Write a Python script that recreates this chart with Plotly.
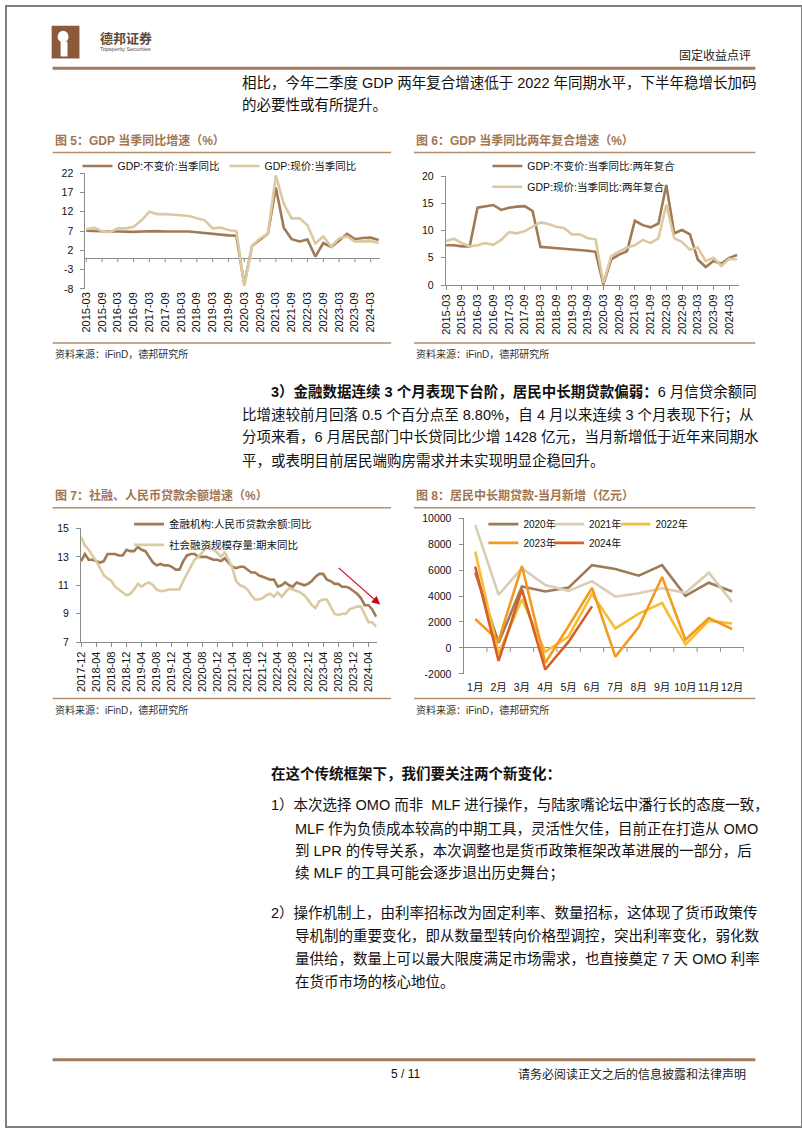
import plotly.graph_objects as go

W, H = 802, 1133


def fx(x):
    return x / W


def fy(y):
    return 1 - y / H


FONT = "Liberation Sans, Noto Sans CJK SC, sans-serif"
TXT = "Liberation Sans Narrow, Liberation Sans, Noto Sans CJK SC, sans-serif"
CJK = "Noto Sans CJK SC, sans-serif"
BROWN = "#A27650"
RULE = "#B38F6C"
DARK = "#A07A55"
LIGHT = "#DCC9A2"
AXIS = "#8C8C8C"

# ---------------- data ----------------
quarters = [f"{y}-{m:02d}" for y in range(2015, 2025) for m in (3, 6, 9, 12)][:38]
quarter_ticks = quarters[::2]

gdp_real = [7.1, 7.0, 7.0, 6.9, 6.9, 6.8, 6.8, 6.9, 7.0, 7.0, 6.9, 6.9,
            6.9, 6.9, 6.7, 6.5, 6.3, 6.0, 5.9, 5.8, -6.8, 3.2, 4.9, 6.4,
            18.3, 7.9, 4.9, 4.3, 4.8, 0.4, 3.9, 2.9, 4.5, 6.3, 4.9, 5.2,
            5.3, 4.7]
gdp_nominal = [7.5, 7.9, 7.0, 6.7, 7.7, 7.7, 8.1, 9.8, 12.0, 11.4, 11.4, 11.3,
               11.1, 10.9, 10.3, 9.8, 7.7, 7.9, 7.3, 7.0, -7.2, 3.2, 5.1, 6.4,
               21.4, 14.1, 10.3, 10.3, 8.5, 3.8, 5.6, 3.0, 5.1, 5.6, 4.3, 4.4,
               4.4, 3.9]

gdp_real_2y = [7.3, 7.3, 7.1, 7.1, 14.2, 14.5, 14.7, 13.8, 14.2, 14.4, 14.5, 13.6,
               7.0, 6.9, 6.8, 6.7, 6.6, 6.4, 6.3, 6.1, 0.1, 4.7, 5.6, 6.2,
               11.8, 11.0, 10.6, 11.3, 18.4, 9.5, 10.1, 9.3, 4.7, 3.3, 4.4, 3.9,
               5.0, 5.5]
gdp_nominal_2y = [8.1, 8.5, 7.7, 7.1, 7.3, 7.7, 7.4, 8.3, 9.7, 9.5, 9.9, 10.7,
                  11.5, 11.2, 10.7, 10.5, 9.3, 9.3, 8.6, 8.4, 0.4, 5.3, 6.2, 6.9,
                  7.3, 8.3, 7.7, 8.6, 14.8, 8.6, 7.9, 6.5, 6.9, 4.4, 5.0, 3.5,
                  4.8, 4.7]

all_months = [f"{y}-{m:02d}" for y in range(2017, 2025) for m in range(1, 13)]
months = all_months[all_months.index("2017-12"):all_months.index("2024-06") + 1]
month_ticks = months[::4]

loan_yoy = [12.7,
            13.2, 12.8, 12.8, 12.7, 12.6, 12.7, 13.2, 13.2, 13.2, 13.1, 13.1, 13.5,
            13.4, 13.4, 13.7, 13.5, 13.4, 13.0, 12.6, 12.4, 12.5, 12.4, 12.4, 12.3,
            12.1, 12.1, 12.7, 13.1, 13.2, 13.2, 13.0, 13.0, 13.0, 12.9, 12.8, 12.8,
            12.7, 12.9, 12.6, 12.3, 12.2, 12.3, 12.3, 12.1, 11.9, 11.9, 11.7, 11.6,
            11.5, 11.4, 11.4, 10.9, 11.0, 11.2, 11.0, 10.9, 11.2, 11.1, 11.0, 11.1,
            11.3, 11.6, 11.8, 11.8, 11.4, 11.3, 11.1, 11.1, 10.9, 10.9, 10.8, 10.6,
            10.4, 10.1, 9.6, 9.6, 9.3, 8.8]
tsf_yoy = [14.4,
           13.8, 13.5, 13.1, 12.7, 12.2, 11.7, 11.5, 11.3, 10.9, 10.7, 10.5, 10.3,
           10.4, 10.7, 11.1, 10.9, 11.1, 11.2, 11.0, 10.7, 10.6, 10.6, 10.7, 10.7,
           10.7, 10.7, 11.3, 11.8, 12.3, 12.8, 13.0, 13.3, 13.6, 13.7, 13.5, 13.3,
           13.0, 13.3, 12.8, 12.2, 11.3, 11.0, 10.9, 10.7, 10.3, 10.0, 10.0, 10.1,
           10.3, 10.4, 10.2, 10.5, 10.2, 10.5, 10.8, 10.7, 10.6, 10.5, 10.3, 10.0,
           9.6, 9.4, 9.9, 10.0, 10.0, 9.5, 9.0, 8.9, 9.0, 9.0, 9.3, 9.4,
           9.5, 9.5, 9.0, 8.4, 8.4, 8.1]

month_labels = ["1月", "2月", "3月", "4月", "5月", "6月",
                "7月", "8月", "9月", "10月", "11月", "12月"]
mlt_2020 = [5800, 400, 4730, 4350, 4650, 6380, 6080, 5570, 6380, 4020, 5030, 4350]
mlt_2021 = [9480, 4100, 6150, 4850, 4400, 5150, 3950, 4220, 4600, 4250, 5800, 3530]
mlt_2022 = [7424, -459, 3750, -300, 900, 4161, 1500, 2650, 3460, 250, 2100, 1880]
mlt_2023 = [2231, 555, 6314, -1156, 1684, 4630, -672, 1600, 5463, 635, 2300, 1460]
mlt_2024 = [6271, -1002, 4521, -1666, 483, 3202]

year_colors = {"2020年": "#9E7B58", "2021年": "#D9CDB4", "2022年": "#F6BE34",
               "2023年": "#F39A1F", "2024年": "#D55F27"}

# ---------------- traces ----------------
fig = go.Figure()
fig.add_trace(go.Scatter(x=quarters, y=gdp_real, name="GDP:不变价:当季同比", mode="lines",
                         line=dict(color=DARK, width=2.6), xaxis="x", yaxis="y", legend="legend"))
fig.add_trace(go.Scatter(x=quarters, y=gdp_nominal, name="GDP:现价:当季同比", mode="lines",
                         line=dict(color=LIGHT, width=2.6), xaxis="x", yaxis="y", legend="legend"))

fig.add_trace(go.Scatter(x=quarters, y=gdp_real_2y, name="GDP:不变价:当季同比:两年复合", mode="lines",
                         line=dict(color=DARK, width=2.6), xaxis="x2", yaxis="y2", legend="legend2"))
fig.add_trace(go.Scatter(x=quarters, y=gdp_nominal_2y, name="GDP:现价:当季同比:两年复合", mode="lines",
                         line=dict(color=LIGHT, width=2.6), xaxis="x2", yaxis="y2", legend="legend3"))

fig.add_trace(go.Scatter(x=months, y=loan_yoy, name="金融机构:人民币贷款余额:同比", mode="lines",
                         line=dict(color=DARK, width=2.6), xaxis="x3", yaxis="y3", legend="legend4"))
fig.add_trace(go.Scatter(x=months, y=tsf_yoy, name="社会融资规模存量:期末同比", mode="lines",
                         line=dict(color=LIGHT, width=2.6), xaxis="x3", yaxis="y3", legend="legend5"))

series8 = [("2020年", mlt_2020, "legend6"), ("2021年", mlt_2021, "legend7"),
           ("2022年", mlt_2022, "legend8"), ("2023年", mlt_2023, "legend9"),
           ("2024年", mlt_2024, "legend10")]
for name, vals, lg in series8:
    fig.add_trace(go.Scatter(x=month_labels[:len(vals)], y=vals, name=name, mode="lines",
                             line=dict(color=year_colors[name], width=2.6),
                             xaxis="x4", yaxis="y4", legend=lg))

# ---------------- axes ----------------
tickfont = dict(family=FONT, size=10.5, color="#111")


def yax(top, bottom, rng, vals, anchor, zeroline=False):
    return dict(domain=[fy(bottom), fy(top)], range=rng, tickvals=vals,
                ticktext=[str(v) for v in vals], anchor=anchor,
                showline=True, linecolor=AXIS, linewidth=1, ticks="outside", ticklen=4,
                tickcolor=AXIS, showgrid=False, zeroline=zeroline, zerolinecolor=AXIS,
                zerolinewidth=1, tickfont=tickfont, ticklabelstandoff=5, fixedrange=True)


def xax(left, right, rng, vals, anchor, line=True, angle=-90):
    return dict(domain=[fx(left), fx(right)], range=rng, type="category", tickvals=vals,
                anchor=anchor, tickangle=angle, showline=line, linecolor=AXIS, linewidth=1,
                ticks="outside" if line else "", ticklen=4, tickcolor=AXIS, showgrid=False,
                zeroline=False, tickfont=dict(family=FONT, size=11, color="#111"),
                fixedrange=True)


layout = dict(
    width=W, height=H, margin=dict(l=0, r=0, t=0, b=0),
    paper_bgcolor="white", plot_bgcolor="rgba(0,0,0,0)",
    font=dict(family=FONT, color="#111"),
    xaxis=xax(80, 377, [-0.1, 37.2], quarter_ticks, "y", line=False),
    yaxis=yax(169, 286, [-8, 22], [-8, -3, 2, 7, 12, 17, 22], "x", zeroline=True),
    xaxis2=xax(443, 739, [-0.05, 37.3], quarter_ticks, "y2"),
    yaxis2=yax(172, 282, [0, 20], [0, 5, 10, 15, 20], "x2"),
    xaxis3=xax(75.5, 374, [-0.05, 78.3], month_ticks, "y3"),
    yaxis3=yax(528, 643, [7, 15], [7, 9, 11, 13, 15], "x3"),
    xaxis4=dict(xax(461, 743.4, [-0.5, 11.5], month_labels, "y4", line=False, angle=0),
                ticklabelstandoff=6, tickfont=dict(family=FONT, size=10.5, color="#111")),
    yaxis4=yax(517.7, 675, [-2000, 10000], [-2000, 0, 2000, 4000, 6000, 8000, 10000], "x4",
               zeroline=True),
    showlegend=True,
)

leg_common = dict(orientation="h", xanchor="left", yanchor="top", bgcolor="rgba(0,0,0,0)",
                  borderwidth=0, itemclick=False, itemdoubleclick=False,
                  font=dict(family=FONT, size=10.5, color="#111"))
layout["legend"] = dict(leg_common, x=fx(72), y=fy(147))
layout["legend2"] = dict(leg_common, x=fx(485), y=fy(147))
layout["legend3"] = dict(leg_common, x=fx(485), y=fy(168))
layout["legend4"] = dict(leg_common, x=fx(124), y=fy(509))
layout["legend5"] = dict(leg_common, x=fx(124), y=fy(530))
leg8_font = dict(family=FONT, size=10, color="#111")
layout["legend6"] = dict(leg_common, x=fx(481), y=fy(509), font=leg8_font)
layout["legend7"] = dict(leg_common, x=fx(547), y=fy(509), font=leg8_font)
layout["legend8"] = dict(leg_common, x=fx(614), y=fy(509), font=leg8_font)
layout["legend9"] = dict(leg_common, x=fx(481), y=fy(528), font=leg8_font)
layout["legend10"] = dict(leg_common, x=fx(547), y=fy(528), font=leg8_font)

# ---------------- decorations ----------------
shapes = []


def hline(x0, x1, y, width, color):
    shapes.append(dict(type="line", xref="paper", yref="paper", x0=fx(x0), x1=fx(x1),
                       y0=fy(y), y1=fy(y), line=dict(color=color, width=width)))


# page border
shapes.append(dict(type="rect", xref="paper", yref="paper", x0=0, x1=1, y0=0, y1=1,
                   line=dict(color="#7f7f7f", width=2)))
# logo
shapes.append(dict(type="rect", xref="paper", yref="paper", x0=fx(46), x1=fx(74),
                   y0=fy(53), y1=fy(20), fillcolor="#8B5A3A", line=dict(width=0)))
shapes.append(dict(type="circle", xref="paper", yref="paper", x0=fx(52), x1=fx(63),
                   y0=fy(37), y1=fy(25), fillcolor="white", line=dict(width=0)))
shapes.append(dict(type="rect", xref="paper", yref="paper", x0=fx(55), x1=fx(62),
                   y0=fy(51), y1=fy(36), fillcolor="white", line=dict(width=0)))

hline(47, 755, 63, 3, "#A07A5C")
hline(47, 755, 1065, 3, "#A07A5C")
for y in (148, 340.5, 507, 700):
    hline(47, 388, y, 1.5, RULE)
    hline(411, 755, y, 1.5, RULE)

# tick marks on zero lines (axis decoration)
for q in quarter_ticks:
    shapes.append(dict(type="line", xref="x", yref="y", x0=q, x1=q, ysizemode="pixel",
                       yanchor=0, y0=0, y1=-4, line=dict(color=AXIS, width=1)))
for k in range(12):
    shapes.append(dict(type="line", xref="x4", yref="y4", x0=k + 0.5, x1=k + 0.5,
                       ysizemode="pixel", yanchor=0, y0=0, y1=-4,
                       line=dict(color=AXIS, width=1)))
layout["shapes"] = shapes

ann = []


def text(x, y, s, size=14.5, color="#111", anchor="left", family=TXT):
    ann.append(dict(x=fx(x), y=fy(y), xref="paper", yref="paper", text=s, showarrow=False,
                    xanchor=anchor, yanchor="middle", font=dict(family=family, size=size,
                                                               color=color)))


text(93, 32, "<b>德邦证券</b>", size=13, color="#5B4A3C", family=CJK)
text(93, 43, "Topsperity Securities", size=5.5, color="#5B4A3C", family=FONT)
text(753, 49, "固定收益点评", size=12, color="#222", anchor="right", family=CJK)

text(236, 77, "相比，今年二季度 GDP 两年复合增速低于 2022 年同期水平，下半年稳增长加码")
text(236, 100, "的必要性或有所提升。")

text(47, 136, "<b>图 5：GDP 当季同比增速（%）</b>", size=12, color=BROWN, family=FONT)
text(411, 136, "<b>图 6：GDP 当季同比两年复合增速（%）</b>", size=12, color=BROWN, family=FONT)
text(47, 352, "资料来源：iFinD，德邦研究所", size=10, color="#333", family=FONT)
text(411, 352, "资料来源：iFinD，德邦研究所", size=10, color="#333", family=FONT)

text(265, 390, "<b>3）金融数据连续 3 个月表现下台阶，居民中长期贷款偏弱：</b>6 月信贷余额同")
text(236, 413, "比增速较前月回落 0.5 个百分点至 8.80%，自 4 月以来连续 3 个月表现下行；从")
text(236, 436, "分项来看，6 月居民部门中长贷同比少增 1428 亿元，当月新增低于近年来同期水")
text(236, 459, "平，或表明目前居民端购房需求并未实现明显企稳回升。")

text(47, 495, "<b>图 7：社融、人民币贷款余额增速（%）</b>", size=12, color=BROWN, family=FONT)
text(411, 495, "<b>图 8：居民中长期贷款-当月新增（亿元）</b>", size=12, color=BROWN, family=FONT)
text(47, 712, "资料来源：iFinD，德邦研究所", size=10, color="#333", family=FONT)
text(411, 712, "资料来源：iFinD，德邦研究所", size=10, color="#333", family=FONT)

text(265, 776, "<b>在这个传统框架下，我们要关注两个新变化：</b>")
text(265, 808, "1）本次选择 OMO 而非  MLF 进行操作，与陆家嘴论坛中潘行长的态度一致，")
text(289, 831, "MLF 作为负债成本较高的中期工具，灵活性欠佳，目前正在打造从 OMO")
text(289, 854, "到 LPR 的传导关系，本次调整也是货币政策框架改革进展的一部分，后")
text(289, 877, "续 MLF 的工具可能会逐步退出历史舞台；")
text(265, 917, "2）操作机制上，由利率招标改为固定利率、数量招标，这体现了货币政策传")
text(289, 940, "导机制的重要变化，即从数量型转向价格型调控，突出利率变化，弱化数")
text(289, 963, "量供给，数量上可以最大限度满足市场需求，也直接奠定 7 天 OMO 利率")
text(289, 986, "在货币市场的核心地位。")

text(403, 1079, "5 / 11", size=12, color="#111", anchor="center")
text(514, 1079, "请务必阅读正文之后的信息披露和法律声明", size=12, color="#222", family=CJK)

# red trend arrow in figure 7
ann.append(dict(x=fx(377), y=fy(605), xref="paper", yref="paper", ax=-43, ay=-38,
                axref="pixel", ayref="pixel", text="", showarrow=True, arrowhead=2,
                arrowsize=1.4, arrowwidth=1.2, arrowcolor="#D0021B"))
layout["annotations"] = ann

fig.update_layout(**layout)

fig.write_html("out.html", config={"displayModeBar": False, "staticPlot": True},
               post_script="document.body.style.margin='0';document.body.style.overflow='hidden';")
